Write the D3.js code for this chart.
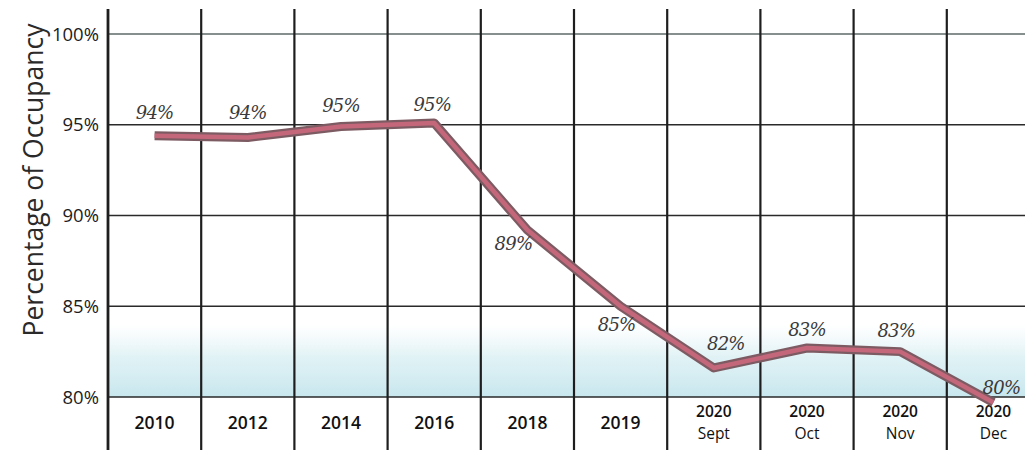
<!DOCTYPE html>
<html>
<head>
<meta charset="utf-8">
<script src="https://cdnjs.cloudflare.com/ajax/libs/d3/7.8.5/d3.min.js"></script>
<style>
  body { margin: 0; background: #fff; }
  svg { display: block; }
</style>
</head>
<body>
<script>
// categories (second line shown under the year)
const years = ['2010', '2012', '2014', '2016', '2018', '2019', '2020', '2020', '2020', '2020'];
const months = ['', '', '', '', '', '', 'Sept', 'Oct', 'Nov', 'Dec'];
// occupancy as plotted
const occupancy = [94.4, 94.3, 94.9, 95.1, 89.2, 85.0, 81.6, 82.7, 82.5, 79.7];
// printed labels
const pctLabels = ['94%', '94%', '95%', '95%', '89%', '85%', '82%', '83%', '83%', '80%'];
const yTicks = [80, 85, 90, 95, 100];

const W = 1025, H = 451;
const margin = { top: 34, left: 108 };
const plotBottom = 397;

const svg = d3.select('body').append('svg')
  .attr('width', W)
  .attr('height', H);

const cats = d3.range(years.length);

// set the ranges
const x = d3.scaleBand().domain(cats).range([margin.left, 1040]);
const y = d3.scaleLinear().domain([80, 100]).range([plotBottom, margin.top]);

// soft blue wash at the bottom
const defs = svg.append('defs');
const grad = defs.append('linearGradient')
  .attr('id', 'wash')
  .attr('x1', 0).attr('x2', 0).attr('y1', 0).attr('y2', 1);
grad.append('stop').attr('offset', '0%').attr('stop-color', '#e3f2f5').attr('stop-opacity', 0);
grad.append('stop').attr('offset', '45%').attr('stop-color', '#d9eff3').attr('stop-opacity', 0.8);
grad.append('stop').attr('offset', '100%').attr('stop-color', '#c8e7ee');

svg.append('rect')
  .attr('x', margin.left)
  .attr('y', y(84))
  .attr('width', W - margin.left)
  .attr('height', plotBottom - y(84))
  .attr('fill', 'url(#wash)');

// horizontal grid
svg.append('g')
  .selectAll('line')
  .data(yTicks)
  .join('line')
  .attr('x1', margin.left)
  .attr('x2', W)
  .attr('y1', d => y(d))
  .attr('y2', d => y(d))
  .attr('stroke', d => d === 100 ? '#5f6868' : '#2a2a2a')
  .attr('stroke-width', 1.6);

// vertical separators
svg.append('g')
  .selectAll('line')
  .data(cats)
  .join('line')
  .attr('x1', d => x(d))
  .attr('x2', d => x(d))
  .attr('y1', 9)
  .attr('y2', 450)
  .attr('stroke', '#1e1e1e')
  .attr('stroke-width', d => d === 0 ? 2.8 : 2.2);

// y tick labels
svg.append('g')
  .selectAll('text')
  .data(yTicks)
  .join('text')
  .attr('x', 99)
  .attr('y', d => y(d))
  .attr('dy', '0.36em')
  .attr('text-anchor', 'end')
  .style('font-family', '"Open Sans", sans-serif')
  .style('font-size', '18.5px')
  .style('fill', '#1c1c1c')
  .text(d => d + '%');

// y title
svg.append('text')
  .attr('transform', 'translate(43,180) rotate(-90)')
  .attr('text-anchor', 'middle')
  .style('font-family', '"Open Sans", sans-serif')
  .style('font-size', '26.5px')
  .style('fill', '#2a2a2a')
  .text('Percentage of Occupancy');

// x labels
const xl = svg.append('g')
  .selectAll('text')
  .data(cats)
  .join('text')
  .attr('text-anchor', 'middle')
  .style('font-family', '"Open Sans", sans-serif')
  .style('font-weight', 600)
  .style('fill', '#111');

xl.each(function (i) {
  const t = d3.select(this);
  const cx = x(i) + x.bandwidth() / 2;
  if (months[i]) {
    t.append('tspan').attr('x', cx).attr('y', 417).style('font-size', '15.5px').text(years[i]);
    t.append('tspan').attr('x', cx).attr('y', 439).style('font-size', '15.5px').style('font-weight', 500).text(months[i]);
  } else {
    t.append('tspan').attr('x', cx).attr('y', 429).style('font-size', '17.5px').text(years[i]);
  }
});

// the occupancy line
const pts = cats.map(i => [x(i) + x.bandwidth() / 2, y(occupancy[i])]);
const valueline = d3.line();

svg.append('path')
  .attr('d', valueline(pts))
  .attr('fill', 'none')
  .attr('stroke', '#7d5b63')
  .attr('stroke-width', 9)
  .attr('stroke-linejoin', 'round');

svg.append('path')
  .attr('d', valueline(pts))
  .attr('fill', 'none')
  .attr('stroke', '#c4677b')
  .attr('stroke-width', 4.5)
  .attr('stroke-linejoin', 'round');

// label nudges (dx, dy) relative to each point
const nudge = [[0, -17], [0, -18], [0, -15], [-2, -12], [-14, 20], [-4, 25], [12, -18], [0, -12], [-4, -15], [8, -8]];

svg.append('g')
  .selectAll('text')
  .data(cats)
  .join('text')
  .attr('x', i => pts[i][0] + nudge[i][0])
  .attr('y', i => pts[i][1] + nudge[i][1])
  .attr('text-anchor', 'middle')
  .style('font-family', '"DejaVu Serif", serif')
  .style('font-style', 'italic')
  .style('font-size', '18px')
  .style('fill', '#3a3a3a')
  .style('letter-spacing', '-0.8px')
  .text(i => pctLabels[i]);
</script>
</body>
</html>
